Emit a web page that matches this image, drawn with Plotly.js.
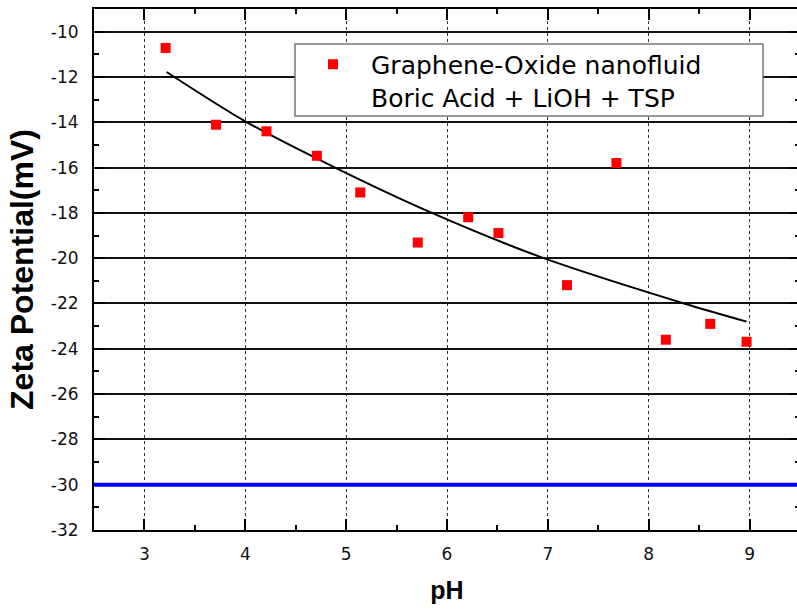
<!DOCTYPE html>
<html>
<head>
<meta charset="utf-8">
<script src="https://cdn.plot.ly/plotly-3.0.1.min.js"></script>
<style>
  html, body { margin: 0; padding: 0; overflow: hidden; background: #fff; }
  #chart { width: 800px; height: 610px; }
</style>
</head>
<body>
<div id="chart"></div>
<script>
// Measured zeta potential of the graphene-oxide nanofluid against pH
const pH = [3.21, 3.71, 4.21, 4.71, 5.14, 5.71, 6.21, 6.51, 7.19, 7.68, 8.17, 8.61, 8.97];
const zeta = [-10.72, -14.11, -14.40, -15.48, -17.10, -19.31, -18.19, -18.89, -21.19, -15.80, -23.60, -22.90, -23.69];

// Trend curve through the measurements
const fitPH = [3.22, 4.00, 4.89, 5.85, 6.96, 8.35, 8.97];
const fitZeta = [-11.78, -13.96, -16.00, -18.00, -20.00, -22.00, -22.80];

// Stability threshold
const limitZeta = -30;

const seriesName = 'Graphene-Oxide nanofluid<br>Boric Acid + LiOH + TSP';
const xTickVals = [3, 4, 5, 6, 7, 8, 9];
const yTickVals = [-32, -30, -28, -26, -24, -22, -20, -18, -16, -14, -12, -10];

const sans = 'DejaVu Sans, Liberation Sans, Arial, sans-serif';
const sansBold = 'Liberation Sans, Arial, sans-serif';
const tickFont = { family: sans, size: 17, color: '#111' };

const traces = [
  {
    x: fitPH, y: fitZeta,
    type: 'scatter', mode: 'lines',
    line: { color: '#000', width: 2, shape: 'spline', smoothing: 0.8 },
    showlegend: false, hoverinfo: 'skip'
  },
  {
    x: pH, y: zeta,
    type: 'scatter', mode: 'markers',
    name: seriesName,
    marker: { symbol: 'square', size: 10, color: '#ff0000' }
  }
];

const layout = {
  width: 800, height: 610,
  margin: { l: 94, r: 0, t: 9, b: 80 },
  paper_bgcolor: '#fff', plot_bgcolor: '#fff',
  font: { family: sans, color: '#000' },
  xaxis: {
    range: [2.5, 9.5], tickvals: xTickVals, ticktext: xTickVals.map(String),
    ticks: 'inside', ticklen: 11, tickwidth: 2, tickcolor: '#000',
    minor: { dtick: 0.5, ticks: 'inside', ticklen: 5, tickwidth: 2, tickcolor: '#000' },
    showline: true, linewidth: 2, linecolor: '#000', mirror: 'ticks',
    showgrid: true, gridcolor: '#333', gridwidth: 1, griddash: 'dot',
    zeroline: false, tickfont: tickFont, ticklabelstandoff: 8,
    title: { text: 'pH', font: { family: sansBold, size: 25, weight: 'bold', color: '#000' }, standoff: 18 }
  },
  yaxis: {
    range: [-32, -9], tickvals: yTickVals, ticktext: yTickVals.map(String),
    ticks: 'inside', ticklen: 11, tickwidth: 2, tickcolor: '#000',
    minor: { dtick: 1, ticks: 'inside', ticklen: 5, tickwidth: 2, tickcolor: '#000' },
    showline: true, linewidth: 2, linecolor: '#000', mirror: 'ticks',
    showgrid: true, gridcolor: '#111', gridwidth: 2,
    zeroline: false, tickfont: tickFont, ticklabelstandoff: 10,
    title: { text: 'Zeta Potential(mV)', font: { family: sansBold, size: 32, weight: 'bold', color: '#000' }, standoff: 8 }
  },
  shapes: [
    {
      type: 'line', xref: 'paper', x0: 0, x1: 1, yref: 'y', y0: limitZeta, y1: limitZeta,
      line: { color: '#0000ff', width: 4 }, layer: 'above'
    },
    // frame behind the legend entry
    {
      type: 'rect', xref: 'paper', yref: 'paper',
      x0: 0.2847, x1: 0.9476, y0: 0.7946, y1: 0.9328,
      fillcolor: '#fff', line: { color: '#777', width: 1.5 }, layer: 'above'
    }
  ],
  legend: {
    x: 0.2847, y: 0.9376, xanchor: 'left', yanchor: 'top',
    bgcolor: 'rgba(0,0,0,0)', borderwidth: 0,
    valign: 'top', itemwidth: 66,
    font: { family: sans, size: 25, color: '#000' }
  },
  showlegend: true
};

Plotly.newPlot('chart', traces, layout, { displayModeBar: false, staticPlot: true });
</script>
</body>
</html>
